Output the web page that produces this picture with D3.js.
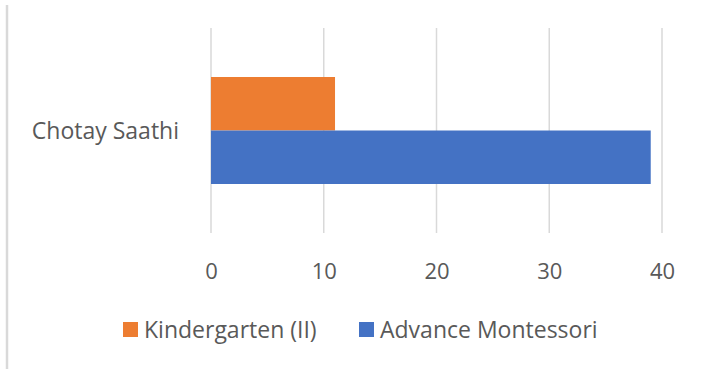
<!DOCTYPE html>
<html><head><meta charset="utf-8">
<script src="https://cdn.jsdelivr.net/npm/d3@7"></script>
<style>body{margin:0;background:#fff}svg{display:block}text{font-family:"Open Sans",sans-serif;fill:#595959}</style>
</head><body><svg id="c" width="717" height="369"></svg>
<script>
const categories = ["Chotay Saathi"];
const seriesNames = ["Kindergarten (II)", "Advance Montessori"];
const kindergarten = [11];
const advanceMontessori = [39];
const xTicks = [0, 10, 20, 30, 40];
const colors = ["#ED7D31", "#4472C4"];

const svg = d3.select("#c");
const plot = {left: 211, right: 662, top: 28, bottom: 233};

// frame line at left
svg.append("line").attr("x1",7).attr("x2",7).attr("y1",5).attr("y2",369)
  .attr("stroke","#d9d9d9").attr("stroke-width",2.5);

const x = d3.scaleLinear().domain([0,40]).range([plot.left, plot.right]);
const y = d3.scaleBand().domain(categories).range([plot.top, plot.bottom]).paddingInner(0).paddingOuter(0.458);
const ys = d3.scaleBand().domain(seriesNames).range([0, y.bandwidth()]);

// gridlines
svg.append("g").selectAll("line").data(xTicks).join("line")
  .attr("x1",d=>x(d)).attr("x2",d=>x(d)).attr("y1",plot.top).attr("y2",plot.bottom)
  .attr("stroke","#d9d9d9").attr("stroke-width",1.5);

// axis labels
const xAxis = d3.axisBottom(x).tickValues(xTicks).tickSize(0).tickPadding(0);
const ax = svg.append("g").attr("transform",`translate(0,${plot.bottom})`).call(xAxis);
ax.select(".domain").remove();
ax.selectAll("text").attr("dy",null).attr("y",46).style("font-size","22px").attr("fill","#595959")
  .attr("font-family",null);

const series = [kindergarten, advanceMontessori];
categories.forEach((c,i)=>{
  series.forEach((s,j)=>{
    svg.append("rect")
      .attr("x", x(0))
      .attr("y", y(c)+ys(seriesNames[j]))
      .attr("width", x(s[i])-x(0))
      .attr("height", ys.bandwidth())
      .attr("fill", colors[j]);
  });
  svg.append("text").attr("x",179).attr("y",y(c)+y.bandwidth()/2).attr("dy","0.35em")
    .attr("text-anchor","end").style("font-size","23px").text(c);
});

// legend
const legendX = [123, 359];
seriesNames.forEach((n,j)=>{
  svg.append("rect").attr("x",legendX[j]).attr("y",322).attr("width",15).attr("height",15).attr("fill",colors[j]);
  svg.append("text").attr("x",legendX[j]+21).attr("y",330).attr("dy","0.35em").style("font-size","23px").text(n);
});
</script></body></html>
